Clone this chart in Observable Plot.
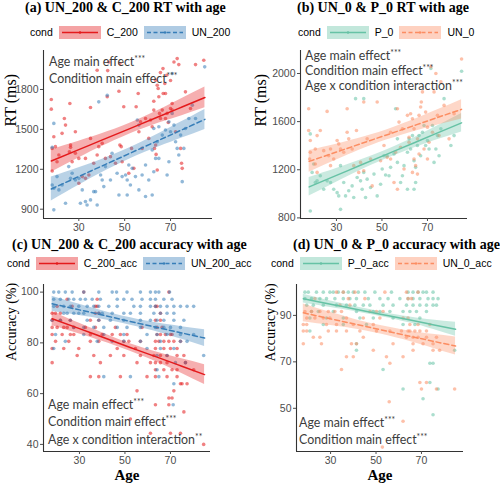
<!DOCTYPE html>
<html><head><meta charset="utf-8">
<script src="https://cdn.jsdelivr.net/npm/d3@7"></script>
<script src="https://cdn.jsdelivr.net/npm/@observablehq/plot@0.6"></script>
<style>
body{margin:0;background:#fff;}
#wrap{position:relative;width:500px;height:486px;overflow:hidden;background:#fff;}
.panel{position:absolute;width:250px;height:243px;}
.title{position:absolute;font:bold 14px "Liberation Serif","Times New Roman",serif;line-height:14px;white-space:nowrap;color:#000;}
.legend{position:absolute;display:flex;align-items:center;height:14px;font:10.5px "Liberation Sans",Arial,sans-serif;color:#000;white-space:nowrap;}
.legend svg{display:block;}
.ann{position:absolute;font:12.4px Lato,sans-serif;color:#3c3c3c;white-space:nowrap;}
.ann sup{font-size:8.5px;vertical-align:0;position:relative;top:-4px;}
</style></head>
<body><div id="wrap"></div>
<script>
// ---------- data ----------
const ageTicks = [30, 50, 70];
const rtTicksA = [900, 1200, 1500, 1800];
const rtTicksB = [800, 1200, 1600, 2000];
const accTicksC = [40, 60, 80, 100];
const accTicksD = [50, 70, 90];

// Panel (a) points [age, RT]
const aC200 = [[18,1725],[18,1652],[19.1,1445],[18.4,1357],[19.8,1370],[18.4,1187],[20.5,1257],[24.2,1532],[26.1,1695],[23.7,1582],[26.4,1382],[26.4,1365],[25.9,1332],[27.1,1257],[28.5,1320],[30,1282],[32.9,1282],[31.5,1145],[35.1,1432],[35.1,1665],[34.4,1157],[36.5,1245],[38,1307],[38.7,1370],[40.2,1395],[41.6,1282],[42.4,1745],[43.8,1295],[46,1245],[47.5,1787],[47.9,1382],[48.5,1370],[49.6,1670],[48.9,1257],[51.8,1170],[53,1357],[54,1207],[55.9,1770],[56.2,1482],[56.9,1557],[57.6,1357],[59.1,1582],[60.5,1432],[62.7,1712],[62.7,1645],[63,1357],[63.5,1382],[63.7,1312],[64.2,1195],[64.6,1807],[64.9,1745],[65.2,1620],[65.6,1582],[66.4,1645],[66.8,1770],[67.5,1845],[67.8,1770],[68.3,1907],[68.5,1620],[69,1552],[70,1657],[70.7,1695],[70.7,1645],[71.5,2007],[72.2,1482],[72.9,2032],[73.6,1987],[74.4,1357],[74.8,1245],[75.1,1207],[76.5,1782],[78.7,1657],[80.9,1987],[84.5,2020],[63.5,1870],[65.6,1927],[66.7,1957],[64.2,1832],[70,1867],[61.3,1570],[62,1520],[67.8,1582],[55,1670],[38,1945],[42.6,1942],[43.1,2007],[47.9,1995],[32.9,1132],[30,1095],[28.5,1482],[22.7,1470],[21.3,1307]];
const aUN200 = [[19.1,1545],[18.4,1365],[18.4,1082],[19.1,1057],[19.1,895],[20.5,1145],[21.3,1045],[22.7,1082],[24.2,945],[25.6,1220],[26.4,1132],[27.1,1170],[28.5,1120],[30,1132],[30.7,945],[31.5,1045],[32.9,957],[33.6,932],[35.1,970],[36.5,1032],[37.3,1032],[38,932],[38.7,1707],[39.5,1157],[40.2,1120],[40.9,1070],[41.6,1220],[42.4,1757],[43.8,1120],[44.5,1320],[46.7,1170],[47.5,1007],[48.9,1145],[50.4,1157],[51.1,1120],[51.8,1232],[52.5,1082],[53.3,1207],[54.7,1145],[55.5,1570],[56.2,1532],[57.6,1157],[59.1,995],[60.5,1120],[62,1007],[62.7,1182],[63.5,1282],[64.2,1407],[64.9,1282],[66.4,1457],[67.8,1495],[68.5,1157],[69.3,1557],[70,1482],[70.7,1620],[71.5,1532],[72.2,1407],[72.9,1357],[73.6,1307],[75.1,1107],[75.8,1357],[76.5,1507],[78,1582],[79.5,1682],[80.9,1582],[84.9,1970],[70.7,1920],[59.1,1232],[62,1345],[56.2,1045],[51.1,1007],[62.7,1507],[64.9,1520],[69.3,1257],[74.4,1457]];

// Panel (b) points [age, RT]
const bUN0 = [[17.8,1707],[17.8,1526],[18.5,1443],[18.2,1289],[18.5,1345],[20.7,1373],[20.7,1248],[21.5,1484],[22.9,1526],[24.4,1359],[25.9,1685],[26.6,1317],[27.4,1373],[28.8,1289],[30.3,1443],[31,1415],[31.8,1373],[33.2,1345],[34.7,1707],[34.7,1512],[35.4,1457],[36.9,1373],[37.6,1234],[38.8,1526],[39.8,1178],[40.6,1261],[42,1192],[43.5,1457],[45,1289],[45.7,1066],[47.9,1763],[49.4,1275],[50.9,1401],[52.3,1303],[53.8,1512],[55.3,1094],[56,1345],[56.8,1707],[57.5,1596],[58.2,1387],[59,1540],[61.2,1652],[61.9,1429],[62.6,1666],[63.4,1624],[64.1,1540],[64.1,1289],[64.8,1234],[65.6,1457],[66.3,1652],[67,1721],[67.3,1763],[67.8,1847],[68.5,1373],[69.2,1679],[70,1554],[70.7,1429],[71.5,2056],[72.2,1512],[72.9,1847],[73.7,2000],[74.4,1652],[75.1,1484],[75.9,1930],[77.3,1735],[79.5,1457],[81.7,1666],[85,2120],[66.3,1331],[65.6,1164],[61.9,1470],[59.7,1206],[56.8,1038],[63.4,1178],[70,1289],[53.8,1289],[42,1763],[21.5,1178],[27.4,1234]];
const bP0 = [[18.5,1498],[18.5,857],[19.3,1178],[20,1248],[20.7,1094],[21.5,1108],[22.9,1150],[24.4,1038],[25.9,1108],[27.4,1094],[28.8,1038],[30.3,1010],[31,983],[31.8,1234],[33.2,1094],[34,983],[35.4,1025],[36.9,1066],[37.6,969],[38.4,1791],[39.1,1136],[40.6,1108],[41.3,1038],[42,1791],[42.8,969],[43.5,1122],[45,1052],[46.5,1164],[47.9,983],[49.4,1080],[50.1,1206],[50.9,1317],[51.6,1156],[52.3,1317],[53.1,1150],[53.8,1220],[55.3,1331],[56,1707],[56.8,1261],[58.2,1094],[59,1150],[59.7,1234],[61.2,1038],[61.9,1457],[62.6,1373],[63.4,1484],[64.1,1275],[64.8,1094],[65.6,1401],[66.3,1484],[67,1317],[67.8,1512],[68.5,1568],[69.2,1401],[70,1443],[70.7,1373],[71.5,2042],[72.2,1568],[72.9,1261],[73.7,1373],[74.4,1484],[75.1,1317],[75.9,1540],[77.3,1791],[80.3,1401],[81.7,1484],[85,2019],[31.8,871],[42,1178],[64.1,1038],[56.8,1457],[64.8,1220],[61.2,1345]];

// Panel (c) points [age, accuracy %]
const cUN200 = [[18.7,100],[20.9,100],[23.8,100],[26.8,100],[31.9,100],[38.5,100],[44.4,100],[46.3,100],[50.9,100],[56.8,100],[61.2,100],[63.4,100],[64.9,100],[69.6,100],
[18.7,97.2],[21.6,97.2],[25.3,97.2],[27.5,97.2],[30.4,97.2],[32.6,97.2],[35.6,97.2],[39.2,97.2],[46.6,97.2],[49.5,97.2],[53.1,97.2],[57.5,97.2],[61.2,97.2],[63.4,97.2],[67.1,97.2],[70.7,97.2],
[18.7,94.4],[23.1,94.4],[26,94.4],[29.7,94.4],[33.4,94.4],[36.3,94.4],[38.5,94.4],[42.9,94.4],[46.6,94.4],[53.9,94.4],[56.8,94.4],[61.2,94.4],[63.4,94.4],[65.6,94.4],[68.5,94.4],[71.5,94.4],[74.4,94.4],[77.3,94.4],[80.2,94.4],
[23.1,91.7],[24.6,91.7],[27.5,91.7],[29.7,91.7],[31.9,91.7],[38.5,91.7],[40,91.7],[44.4,91.7],[49.5,91.7],[52.4,91.7],[56.8,91.7],[62.7,91.7],[65.6,91.7],[68.5,91.7],[71.5,91.7],
[18,88.9],[21.6,88.9],[26,88.9],[33.4,88.9],[38.5,88.9],[43.6,88.9],[49.5,88.9],[56.8,88.9],[61.2,88.9],[64.1,88.9],[67.1,88.9],[71.5,88.9],[75.9,88.9],
[27.5,86.1],[31.9,86.1],[36.3,86.1],[40.7,86.1],[46.6,86.1],[50.9,86.1],[56.8,86.1],[63.4,86.1],[67.1,86.1],[70,86.1],[74.4,86.1],
[19.5,83.3],[31.9,83.3],[40.7,83.3],[49.5,83.3],[59.7,83.3],[64.1,83.3],[68.5,83.3],[74.4,83.3],[80.2,83.3],
[23.8,80.6],[37.8,80.6],[44.4,80.6],[49.5,80.6],[56.8,80.6],[65.6,80.6],[74.4,80.6],[77.3,80.6],
[18.7,77.8],[59.7,77.8],[65.6,77.8],[71.5,77.8],
[64.1,75],[68.5,75],[84.6,75],[72.2,72.2],[76.6,72.2],[64.1,69.4],[40.7,66.7],[52.4,66.7],[64.9,66.7],[71.5,63.9],[71.2,55.6]];
const cC200 = [[31.9,100],[69.3,100],[24.6,97.2],[37.8,97.2],
[20.2,94.4],[26.8,94.4],[37,94.4],[37.8,94.4],[63.4,94.4],[64.1,94.4],
[18,91.7],[19.5,91.7],[21.6,91.7],[37,91.7],[38.5,91.7],[65.6,91.7],
[18,88.9],[21.6,88.9],[26,88.9],[34.8,88.9],[38.5,88.9],[63.4,88.9],[65.6,88.9],
[18,86.1],[20.2,86.1],[23.1,86.1],[24.6,86.1],[27.5,86.1],[32.6,86.1],[37,86.1],[45.8,86.1],[57.5,86.1],[64.1,86.1],[66.3,86.1],
[18,83.3],[22.4,83.3],[26,83.3],[27.5,83.3],[34.8,83.3],[40,83.3],[44.4,83.3],[48,83.3],[50.9,83.3],[64.1,83.3],[65.6,83.3],[67.8,83.3],[70,83.3],[70.7,83.3],
[19.5,80.6],[25.3,80.6],[34.8,80.6],[38.5,80.6],[49.5,80.6],[51.7,80.6],[56.8,80.6],[63.4,80.6],[64.9,80.6],[67.1,80.6],[69.3,80.6],[71.5,80.6],[74.4,80.6],
[18,77.8],[23.1,77.8],[29.7,77.8],[46.6,77.8],[54.6,77.8],[63.4,77.8],[67.1,77.8],[70,77.8],[72.9,77.8],
[29,75],[36.3,75],[43.6,75],[49.5,75],[56.8,75],[62.7,75],[65.6,75],[68.5,75],[72.9,75],[75.9,75],
[18,72.2],[39.2,72.2],[55.3,72.2],[61.2,72.2],[63.4,72.2],[65.6,72.2],[68.5,72.2],[76.6,72.2],
[63.4,69.4],[67.1,69.4],[70.7,69.4],[72.9,69.4],[80.2,69.4],
[34.8,66.7],[38.5,66.7],[48,66.7],[59.7,66.7],[63.4,66.7],[68.5,66.7],[72.9,66.7],
[74.4,63.9],[75.1,63.9],[77.3,63.9],[55.3,61.1],[71.5,61.1],[69.3,58.3],[70.7,58.3],[63.4,55.6],[69.3,55.6],[75.9,52.8],[52.4,50],[61.2,44.4],[70,44.4],[74.4,44.4],[84.6,40]];

// Panel (d) points [age, accuracy %]
const dP0 = [[18.7,100],[20.2,100],[23.8,100],[26.8,100],[29.7,100],[31.2,100],[33.4,100],[35.6,100],[37.8,100],[40,100],[42.2,100],[45.1,100],[49.5,100],[56.8,100],[64.1,100],[66.3,100],[68.5,100],[70.7,100],[72.2,100],[75.1,100],
[18.7,97.2],[21.6,97.2],[25.3,97.2],[28.2,97.2],[31.9,97.2],[35.6,97.2],[38.5,97.2],[41.4,97.2],[46.6,97.2],[51.7,97.2],[55.3,97.2],[60.5,97.2],[64.1,97.2],[66.3,97.2],[69.3,97.2],[72.9,97.2],[75.1,97.2],[77.3,97.2],
[19.5,94.4],[22.4,94.4],[26.8,94.4],[32.6,94.4],[37,94.4],[40.7,94.4],[44.4,94.4],[47.3,94.4],[53.1,94.4],[57.5,94.4],[63.4,94.4],[66.3,94.4],[69.3,94.4],[72.2,94.4],[75.1,94.4],[76.6,94.4],
[21.6,91.7],[24.6,91.7],[31.2,91.7],[41.4,91.7],[48.8,91.7],[51.7,91.7],[56.1,91.7],[61.9,91.7],[64.9,91.7],[67.8,91.7],[72.2,91.7],
[20.9,88.9],[28.2,88.9],[35.6,88.9],[42.9,88.9],[48.8,88.9],[57.5,88.9],[69.3,88.9],
[26.8,86.1],[35.6,86.1],[45.8,86.1],[61.9,86.1],[67.1,86.1],
[20.9,83.3],[41.4,77.8],[41.4,75],[84.6,75],[73.7,69.4],[75.1,69.4],[53.1,66.7],[73.7,61.1],[61.9,58.3],[77.3,58.3],[70.7,54.1],[75.1,47.2]];
const dUN0 = [[32.6,100],[35.6,100],[40.7,100],[53.9,100],[63.4,100],[68.5,100],
[23.1,97.2],[37.8,97.2],[45.1,97.2],[64.1,97.2],[65.6,97.2],
[34.1,94.4],[38.5,94.4],
[18.7,91.7],[21.6,91.7],[25.3,91.7],[29,91.7],[31.9,91.7],[34.8,91.7],[47.3,91.7],[50.2,91.7],[53.1,91.7],
[19.5,88.9],[23.1,88.9],[26.8,88.9],[29.7,88.9],[37,88.9],[44.4,88.9],[51.7,88.9],[61.9,88.9],[64.1,88.9],
[18,86.1],[19.5,86.1],[28.2,86.1],[32.6,86.1],[40,86.1],[48.8,86.1],[64.9,86.1],[68.5,86.1],[73.7,86.1],
[18,83.3],[19.5,83.3],[29,83.3],[32.6,83.3],[37,83.3],[42.9,83.3],[50.2,83.3],[56.1,83.3],[61.2,83.3],[64.1,83.3],[64.9,83.3],[67.1,83.3],[69.3,83.3],[72.2,83.3],
[22.4,80.6],[25.3,80.6],[44.4,80.6],[63.4,80.6],[66.3,80.6],[68.5,80.6],[72.2,80.6],[76.6,80.6],
[18,77.8],[26,77.8],[39.2,77.8],[41.4,77.8],[57.5,77.8],[66.3,77.8],[70.7,77.8],[75.1,77.8],
[48.8,75],[66.3,75],[75.1,75],[78,75],
[37,72.2],[40,72.2],[54.6,72.2],[61.9,72.2],[56.1,69.4],[34.8,66.7],[69.3,61.1],[72.2,61.1],[84.6,58.3],[76.6,58.3],[70,58.3],[55.8,52.8],[61.9,44.4],[52.8,33.3]];

// Fitted lines with 95% band: [age, fit, lower, upper]
const fitAC200 = [[18,1262,1177,1347],[30,1348,1285,1411],[40,1419,1371,1467],[52,1504,1464,1544],[65,1597,1548,1646],[75,1668,1603,1733],[85,1740,1662,1818]];
const fitAUN200 = [[18,1052,962,1142],[30,1146,1080,1212],[40,1224,1174,1274],[52,1318,1276,1360],[65,1419,1369,1469],[75,1497,1435,1559],[85,1575,1500,1650]];
const fitBP0 = [[18,1058,981,1135],[30,1153,1096,1210],[40,1233,1189,1277],[52,1328,1291,1365],[65,1431,1387,1475],[75,1511,1453,1569],[85,1590,1513,1667]];
const fitBUN0 = [[18,1270,1180,1360],[30,1347,1281,1413],[40,1412,1362,1462],[52,1489,1447,1531],[65,1573,1523,1623],[75,1638,1574,1702],[85,1702,1622,1782]];
const fitCC200 = [[18,89.5,86.7,92.3],[30,85.6,83.5,87.7],[40,82.3,80.6,84.0],[52,78.3,76.8,79.8],[65,74.1,72.1,76.1],[75,70.8,67.9,73.7],[85,67.5,63.6,71.4]];
const fitCUN200 = [[18,95.4,92.4,98.4],[30,93.0,90.8,95.2],[40,91.0,89.3,92.7],[52,88.5,87.05,89.95],[65,85.9,84.1,87.7],[75,83.9,81.4,86.4],[85,81.9,78.6,85.2]];
const fitDP0 = [[18,97.2,95.3,99.1],[30,94.8,93.4,96.2],[40,92.9,91.8,94.0],[52,90.5,89.5,91.5],[65,88.0,86.7,89.3],[75,86.0,84.0,88.0],[85,84.0,81.0,87.0]];
const fitDUN0 = [[18,91.1,87.3,94.9],[30,88.5,85.7,91.3],[40,86.4,84.3,88.5],[52,83.8,82.0,85.6],[65,81.0,78.8,83.2],[75,78.9,75.9,81.9],[85,76.8,72.9,80.7]];

const titles = ["(a) UN_200 & C_200 RT with age","(b) UN_0 & P_0 RT with age","(c) UN_200 & C_200 accuracy with age","(d) UN_0 & P_0 accuracy with age"];
const annA = [["Age main effect","***"],["Condition main effect","***"]];
const annB = [["Age main effect","***"],["Condition main effect","***"],["Age x condition interaction","***"]];
const annC = [["Age main effect","***"],["Condition main effect","***"],["Age x condition interaction","**"]];
const annD = [["Age main effect","***"],["Condition main effect","***"]];

const RED="#E41A1C", BLUE="#377EB8", GREEN="#66C2A5", ORANGE="#FC8D62";

const panels = [
 {left:0, top:0, m:[50,38,25,43], xd:[14.6,88.3], yd:[830,2093], yt:rtTicksA, ylab:"RT (ms)", ylabSize:16, ylabDx:-33, ylabDy:-8, xlab:false,
  series:[{name:"C_200",pts:aC200,fit:fitAC200,color:RED,dash:false},{name:"UN_200",pts:aUN200,fit:fitAUN200,color:BLUE,dash:true}],
  title:titles[0], tx:25, ty:0.6, legend:{x:30,y:25}, ann:annA, ax:49, ay:54, lh:15},
 {left:250, top:0, m:[50,33,25,50], xd:[14.2,87.6], yd:[795,2191], yt:rtTicksB, ylab:"RT (ms)", ylabSize:16, ylabDx:-40, ylabDy:-8, xlab:false,
  series:[{name:"P_0",pts:bP0,fit:fitBP0,color:GREEN,dash:false},{name:"UN_0",pts:bUN0,fit:fitBUN0,color:ORANGE,dash:true}],
  title:titles[1], tx:297, ty:0.6, legend:{x:298,y:25}, ann:annB, ax:305, ay:48.6, lh:14.3},
 {left:0, top:243, m:[41,40,35,43], xd:[14.2,87.6], yd:[37.2,103], yt:accTicksC, ylab:"Accuracy (%)", ylabSize:14, ylabDx:-32, ylabDy:-7, xlab:true,
  series:[{name:"C_200_acc",pts:cC200,fit:fitCC200,color:RED,dash:false},{name:"UN_200_acc",pts:cUN200,fit:fitCUN200,color:BLUE,dash:true}],
  title:titles[2], tx:12, ty:237.5, legend:{x:7,y:256}, ann:annC, ax:48, ay:397, lh:15.3},
 {left:250, top:243, m:[41,37,35,46], xd:[15,88.5], yd:[31.4,103.3], yt:accTicksD, ylab:"Accuracy (%)", ylabSize:14, ylabDx:-26, ylabDy:-6.5, xlab:true,
  series:[{name:"P_0_acc",pts:dP0,fit:fitDP0,color:GREEN,dash:false},{name:"UN_0_acc",pts:dUN0,fit:fitDUN0,color:ORANGE,dash:true}],
  title:titles[3], tx:293, ty:237.5, legend:{x:271,y:256}, ann:annD, ax:299, ay:414.5, lh:15}
];

const wrap = document.getElementById("wrap");

function build(p){
  const marks = [];
  for (const s of p.series) marks.push(Plot.dot(s.pts, {x:d=>d[0], y:d=>d[1], r:1.8, fill:s.color, fillOpacity:0.55}));
  for (const s of p.series) marks.push(Plot.areaY(s.fit, {x:d=>d[0], y1:d=>d[2], y2:d=>d[3], fill:s.color, fillOpacity:0.35, curve:"natural"}));
  for (const s of p.series) marks.push(Plot.line(s.fit, {x:d=>d[0], y:d=>d[1], stroke:s.color, strokeWidth:1.5, strokeDasharray:s.dash?"5,3":null, curve:"natural"}));
  marks.push(Plot.ruleX([p.xd[0]], {stroke:"#333", strokeWidth:1.1}));
  marks.push(Plot.ruleY([p.yd[0]], {stroke:"#333", strokeWidth:1.1}));
  marks.push(Plot.axisX(ageTicks, {tickSize:3, tickPadding:2, label:null, fontSize:10.5, tickFormat:d3.format("d")}));
  marks.push(Plot.axisY(p.yt, {tickSize:3, tickPadding:2, label:null, fontSize:10.5, tickFormat:d3.format("d")}));
  marks.push(Plot.text([p.ylab], {frameAnchor:"left", rotate:-90, dx:p.ylabDx, dy:p.ylabDy, fontFamily:"Liberation Serif", fontSize:p.ylabSize, fill:"#000"}));
  if (p.xlab) marks.push(Plot.text(["Age"], {frameAnchor:"bottom", lineAnchor:"middle", dy:24, fontFamily:"Liberation Serif", fontWeight:"bold", fontSize:15, fill:"#000"}));
  const svg = Plot.plot({
    width:250, height:243,
    marginTop:p.m[0], marginRight:p.m[1], marginBottom:p.m[2], marginLeft:p.m[3],
    x:{domain:p.xd}, y:{domain:p.yd},
    style:{fontFamily:"Liberation Sans, Arial, sans-serif", fontSize:"10.5px", color:"#4d4d4d", background:"transparent"},
    marks
  });
  const div = document.createElement("div");
  div.className = "panel";
  div.style.left = p.left+"px"; div.style.top = p.top+"px";
  div.appendChild(svg);
  wrap.appendChild(div);

  const t = document.createElement("div");
  t.className="title"; t.textContent=p.title;
  t.style.left=p.tx+"px"; t.style.top=p.ty+"px";
  wrap.appendChild(t);

  const lg = document.createElement("div");
  lg.className="legend"; lg.style.left=p.legend.x+"px"; lg.style.top=p.legend.y+"px";
  let html = '<span style="margin-right:6px">cond</span>';
  for (const s of p.series){
    html += `<svg width="42" height="13" style="margin-right:6px"><rect x="0" y="0" width="42" height="13" fill="${s.color}" fill-opacity="0.4"/><line x1="3" x2="39" y1="6.5" y2="6.5" stroke="${s.color}" stroke-width="1.4" ${s.dash?'stroke-dasharray="4,2.5"':''}/><circle cx="21" cy="6.5" r="1.2" fill="${s.color}"/></svg><span style="margin-right:6px">${s.name}</span>`;
  }
  lg.innerHTML = html;
  wrap.appendChild(lg);

  const an = document.createElement("div");
  an.className="ann"; an.style.left=p.ax+"px"; an.style.top=p.ay+"px"; an.style.lineHeight=p.lh+"px";
  an.innerHTML = p.ann.map(a=>`${a[0]}<sup>${a[1]}</sup>`).join("<br>");
  wrap.appendChild(an);
}
panels.forEach(build);
</script></body></html>
